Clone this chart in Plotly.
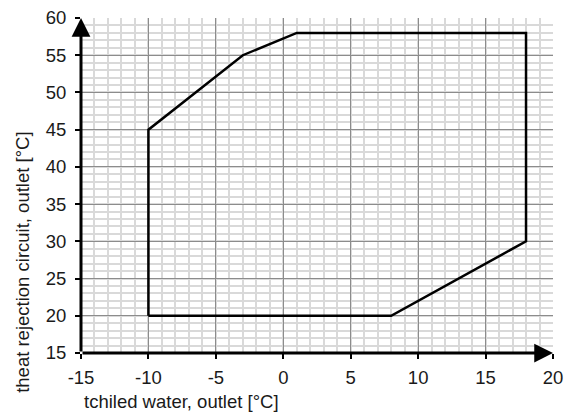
import plotly.graph_objects as go

# Operating envelope vertices
t_chilled = [-10, -10, -3, 1, 18, 18, 8, -10]
t_reject = [20, 45, 55, 58, 58, 30, 20, 20]

x_range = [-15, 20]
y_range = [15, 60]
x_ticks = [-15, -10, -5, 0, 5, 10, 15, 20]
x_ticklabels = ["-15", "-10", "-5", "0", "5", "10", "15", "20"]
y_ticks = [15, 20, 25, 30, 35, 40, 45, 50, 55, 60]
y_ticklabels = ["15", "20", "25", "30", "35", "40", "45", "50", "55", "60"]
x_title = "tchiled water, outlet [°C]"
y_title = "theat rejection circuit, outlet [°C]"

fig = go.Figure()
fig.add_trace(go.Scatter(x=t_chilled, y=t_reject, mode="lines",
                         line=dict(color="black", width=2.5), showlegend=False,
                         hoverinfo="skip"))

font = dict(family="Liberation Sans, Arial, sans-serif", size=18.5, color="#1a1a1a")

common = dict(showgrid=True, gridcolor="#8c8c8c", gridwidth=1, zeroline=False,
              ticks="outside", ticklen=5, tickwidth=2, tickcolor="black",
              showline=False, automargin=False, tickfont=font, tickmode="array")

fig.update_xaxes(range=x_range, tickvals=x_ticks, ticktext=x_ticklabels,
                 ticklabelstandoff=3,
                 minor=dict(dtick=1, tick0=0, showgrid=True, gridcolor="#d9d9d9", gridwidth=1.5),
                 **common)
fig.update_yaxes(range=y_range, tickvals=y_ticks, ticktext=y_ticklabels,
                 ticklabelstandoff=5,
                 minor=dict(dtick=1, tick0=0, showgrid=True, gridcolor="#d9d9d9", gridwidth=1.5),
                 **common)

# axis titles
fig.add_annotation(text=x_title, xref="paper", yref="paper", x=0.213, y=-0.146,
                   xanchor="center", yanchor="middle", showarrow=False, font=font)
fig.add_annotation(text=y_title, xref="paper", yref="paper", x=-0.123, y=0.272,
                   xanchor="center", yanchor="middle", showarrow=False, font=font,
                   textangle=-90)

# axis arrows
fig.add_annotation(x=x_range[1], y=y_range[0], ax=x_range[0], ay=y_range[0],
                   xref="x", yref="y", axref="x", ayref="y", text="",
                   showarrow=True, arrowhead=2, arrowsize=1.25, arrowwidth=3,
                   arrowcolor="black")
fig.add_annotation(x=x_range[0], y=y_range[1], ax=x_range[0], ay=y_range[0],
                   xref="x", yref="y", axref="x", ayref="y", text="",
                   showarrow=True, arrowhead=2, arrowsize=1.25, arrowwidth=3,
                   arrowcolor="black")

fig.update_layout(width=566, height=413, paper_bgcolor="white", plot_bgcolor="white",
                  margin=dict(l=81, r=13, t=18, b=60, autoexpand=False), font=font)

fig.write_html("out.html", config={"displayModeBar": False},
               post_script="document.body.style.margin='0px';document.body.style.overflow='hidden';")
